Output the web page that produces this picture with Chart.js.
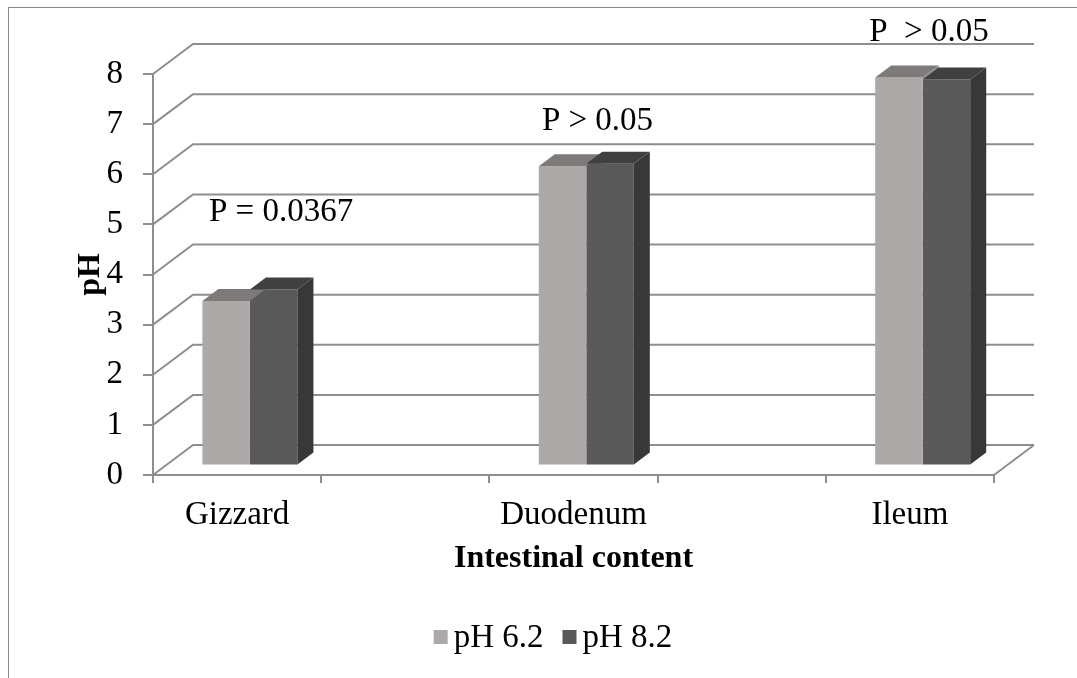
<!DOCTYPE html>
<html>
<head>
<meta charset="utf-8">
<script src="https://cdn.jsdelivr.net/npm/chart.js@4.4.1/dist/chart.umd.min.js"></script>
<style>
  html, body { margin: 0; padding: 0; background: #fff; }
  #wrap { position: relative; width: 1077px; height: 678px; overflow: hidden; background: #fff; }
  #frame { position: absolute; left: 8px; top: 7px; width: 1200px; height: 800px;
           border-top: 1px solid #8a8a8a; border-left: 1px solid #8a8a8a; }
  canvas { position: absolute; left: 0; top: 0; }
</style>
</head>
<body>
<div id="wrap">
  <div id="frame"></div>
  <canvas id="chart" width="1077" height="678"></canvas>
</div>
<script>
// Intestinal pH by segment for two diet pH levels
const categories = ['Gizzard', 'Duodenum', 'Ileum'];
const seriesNames = ['pH 6.2', 'pH 8.2'];
const ph62 = [3.28, 5.97, 7.74];
const ph82 = [3.51, 6.02, 7.70];
const pLabels = ['P = 0.0367', 'P > 0.05', 'P  > 0.05'];
const yMin = 0, yMax = 8, yStep = 1;

// Annotation placement: level on the pH scale and horizontal nudge from the category centre
const pLabelLevel = [5.25, 7.05, 8.84];
const pLabelNudge = [44, 24, 19];

// Look of the pseudo-3D box
const WALL = { x: 40, y: -30 };          // depth of the floor / side wall
const BAR_FRONT = 0.32;                  // bar front face, as a fraction of the depth
const BAR_DEPTH = 0.40;                  // bar thickness, as a fraction of the depth
const GRID = '#8e8e8e';
const FONT = 'Liberation Serif, Times New Roman, serif';
const FS = 33;
const FS_TITLE = 32;
const colors = {
  light: { front: '#ada9a8', top: '#7e7a79', side: '#8c8887' },
  dark:  { front: '#595959', top: '#404040', side: '#383838' }
};
// Legend row
const LEGEND = { cx: 553, cy: 637, box: 14, gap: 6, spacing: 19 };

// Category axis with a blank slot between the segments
const slotLabels = [];
const slotData = [[], []];
categories.forEach((c, i) => {
  if (i > 0) { slotLabels.push(''); slotData[0].push(null); slotData[1].push(null); }
  slotLabels.push(c);
  slotData[0].push(ph62[i]);
  slotData[1].push(ph82[i]);
});

const box3d = {
  id: 'box3d',
  beforeDatasetsDraw(chart) {
    const { ctx, chartArea: a, scales: { y } } = chart;
    ctx.save();
    ctx.strokeStyle = GRID;
    ctx.lineWidth = 2;
    ctx.beginPath();
    for (let v = yMin; v <= yMax; v += yStep) {
      const py = y.getPixelForValue(v);
      // side wall
      ctx.moveTo(a.left, py);
      ctx.lineTo(a.left + WALL.x, py + WALL.y);
      // back wall
      ctx.lineTo(a.right + WALL.x, py + WALL.y);
    }
    // floor right edge
    const p0 = y.getPixelForValue(yMin);
    ctx.moveTo(a.right, p0);
    ctx.lineTo(a.right + WALL.x, p0 + WALL.y);
    ctx.stroke();
    ctx.restore();
    // bars sit in the middle of the depth
    ctx.save();
    ctx.translate(WALL.x * BAR_FRONT, WALL.y * BAR_FRONT);
  },
  afterDatasetsDraw(chart) {
    const { ctx, scales: { x, y } } = chart;
    ctx.restore();
    const fx = WALL.x * BAR_FRONT, fy = WALL.y * BAR_FRONT;
    const dx = WALL.x * BAR_DEPTH, dy = WALL.y * BAR_DEPTH;
    const m0 = chart.getDatasetMeta(0), m1 = chart.getDatasetMeta(1);

    const face = (pts, fill) => {
      ctx.beginPath();
      ctx.moveTo(pts[0][0], pts[0][1]);
      for (let k = 1; k < pts.length; k++) ctx.lineTo(pts[k][0], pts[k][1]);
      ctx.closePath();
      ctx.fillStyle = fill;
      ctx.fill();
    };
    const geom = (el) => {
      const p = el.getProps(['x', 'y', 'base', 'width'], true);
      return { L: p.x - p.width / 2 + fx, R: p.x + p.width / 2 + fx, T: p.y + fy, B: p.base + fy };
    };
    const top = (g, c) => face([[g.L, g.T], [g.R, g.T], [g.R + dx, g.T + dy], [g.L + dx, g.T + dy]], c);
    const side = (g, c) => face([[g.R, g.T], [g.R + dx, g.T + dy], [g.R + dx, g.B + dy], [g.R, g.B]], c);

    m0.data.forEach((el0, idx) => {
      const el1 = m1.data[idx];
      if (slotData[0][idx] == null) return;
      const g0 = geom(el0), g1 = geom(el1);
      ctx.save();
      top(g0, colors.light.top);
      ctx.save();
      ctx.beginPath();
      ctx.rect(0, 0, chart.width, g1.T);
      ctx.clip();
      side(g0, colors.light.side);
      ctx.restore();
      top(g1, colors.dark.top);
      side(g1, colors.dark.side);
      ctx.restore();
    });

    // significance notes above each segment
    ctx.save();
    ctx.fillStyle = '#000';
    ctx.font = FS + 'px ' + FONT;
    ctx.textAlign = 'center';
    ctx.textBaseline = 'middle';
    categories.forEach((c, i) => {
      const cx = x.getPixelForValue(slotLabels.indexOf(c));
      ctx.fillText(pLabels[i], cx + pLabelNudge[i], y.getPixelForValue(pLabelLevel[i]));
    });
    ctx.restore();
  },
  afterDraw(chart) {
    // legend row: square swatch followed by the series name
    const { ctx } = chart;
    ctx.save();
    ctx.font = FS + 'px ' + FONT;
    ctx.textBaseline = 'middle';
    ctx.textAlign = 'left';
    const items = chart.data.datasets.map(ds => ({
      text: ds.label, color: ds.backgroundColor,
      w: LEGEND.box + LEGEND.gap + ctx.measureText(ds.label).width
    }));
    const total = items.reduce((s, it) => s + it.w, 0) + LEGEND.spacing * (items.length - 1);
    let px = LEGEND.cx - total / 2;
    items.forEach(it => {
      ctx.fillStyle = it.color;
      ctx.fillRect(px, LEGEND.cy - LEGEND.box / 2, LEGEND.box, LEGEND.box);
      ctx.fillStyle = '#000';
      ctx.fillText(it.text, px + LEGEND.box + LEGEND.gap, LEGEND.cy + 1);
      px += it.w + LEGEND.spacing;
    });
    ctx.restore();
  }
};

new Chart(document.getElementById('chart'), {
  type: 'bar',
  data: {
    labels: slotLabels,
    datasets: [
      { label: seriesNames[0], data: slotData[0], backgroundColor: colors.light.front, borderWidth: 0,
        categoryPercentage: 0.565, barPercentage: 1 },
      { label: seriesNames[1], data: slotData[1], backgroundColor: colors.dark.front, borderWidth: 0,
        categoryPercentage: 0.565, barPercentage: 1 }
    ]
  },
  options: {
    responsive: false,
    animation: false,
    layout: { padding: { left: 0, right: 83, top: 74, bottom: 67 } },
    plugins: {
      tooltip: { enabled: false },
      legend: { display: false }
    },
    scales: {
      x: {
        afterFit(s) { s.height = 136; },
        grid: { display: true, drawOnChartArea: false, offset: true, tickLength: 8, color: GRID, lineWidth: 2 },
        border: { display: true, color: GRID, width: 2 },
        ticks: { color: '#000', padding: 13, maxRotation: 0, autoSkip: false, font: { family: FONT, size: FS } },
        title: { display: true, text: 'Intestinal content', color: '#000',
                 font: { family: FONT, size: FS_TITLE, weight: 'bold' }, padding: { top: 0, bottom: 33 } }
      },
      y: {
        min: yMin, max: yMax,
        afterFit(s) { s.width = 153; },
        grid: { display: true, drawOnChartArea: false, tickLength: 10, color: GRID, lineWidth: 2 },
        border: { display: true, color: GRID, width: 2 },
        ticks: { stepSize: yStep, color: '#000', padding: 20, font: { family: FONT, size: FS } },
        title: { display: true, text: 'pH', color: '#000',
                 font: { family: FONT, size: FS_TITLE, weight: 'bold' }, padding: { top: 72, bottom: 0 } }
      }
    }
  },
  plugins: [box3d]
});
</script>
</body>
</html>
